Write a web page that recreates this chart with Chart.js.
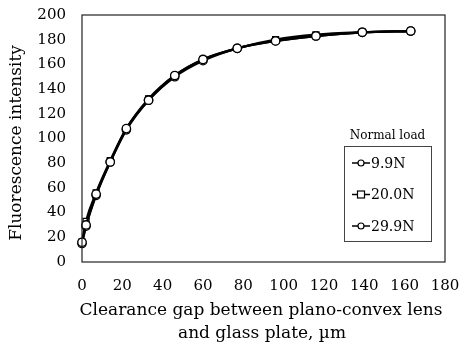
<!DOCTYPE html>
<html>
<head>
<meta charset="utf-8">
<script src="https://cdn.jsdelivr.net/npm/chart.js@4/dist/chart.umd.min.js"></script>
<style>
  html, body { margin: 0; padding: 0; background: #fff; }
</style>
</head>
<body>
<canvas id="c" width="461" height="347"></canvas>
<script>
"use strict";

// clearance gap (um) and fluorescence intensity
const gaps = [0, 2, 7, 14, 22, 33, 46, 60, 77, 96, 116, 139, 163];
const load99 = [16, 30, 55, 81, 108, 131, 151, 164, 173, 179, 183, 186, 187];
const load200 = [16, 33, 56, 82, 108, 132, 151, 164, 173, 180, 184, 186, 187];
const load299 = [15, 29, 54, 81, 107, 131, 150, 163, 173, 179, 183, 186, 187];
const seriesNames = ["9.9N", "20.0N", "29.9N"];
const seriesMarks = ["circle", "rect", "circle"];
const xTicks = [0, 20, 40, 60, 80, 100, 120, 140, 160, 180];
const yTicks = [0, 20, 40, 60, 80, 100, 120, 140, 160, 180, 200];

const SERIF = "'DejaVu Serif', 'Liberation Serif', serif";

const toPts = (ys) => ys.map((y, i) => ({ x: gaps[i], y }));

function ds(label, ys, mark) {
  return {
    label, data: toPts(ys),
    borderColor: "#000", borderWidth: 2.3,
    pointStyle: mark, pointRadius: 4.2,
    pointBackgroundColor: "#fff", pointBorderColor: "#000", pointBorderWidth: 1.3,
    tension: 0.35, cubicInterpolationMode: "monotone", clip: false,
  };
}

// fixed axis box, and no extra room for the edge tick labels
function fixBox(size, key) {
  return (s) => {
    s[key] = size;
    s.paddingTop = s.paddingBottom = s.paddingLeft = s.paddingRight = 0;
  };
}

/* frame, axis titles and the boxed legend */
const decor = {
  id: "decor",
  afterDraw(chart) {
    const { ctx, chartArea: a } = chart;
    ctx.save();
    ctx.strokeStyle = "#222";
    ctx.lineWidth = 1.2;
    ctx.strokeRect(a.left, a.top, a.right - a.left, a.bottom - a.top);

    ctx.fillStyle = "#000";
    ctx.font = "17px " + SERIF;
    ctx.textAlign = "center";
    ctx.textBaseline = "middle";
    ctx.fillText("Clearance gap between plano-convex lens", 261, 311);
    ctx.fillText("and glass plate, \u00b5m", 262, 334);

    ctx.save();
    ctx.translate(17, 143);
    ctx.rotate(-Math.PI / 2);
    ctx.fillText("Fluorescence intensity", 0, 0);
    ctx.restore();

    // legend
    const bx = 344, by = 146, bw = 87, bh = 95;
    ctx.font = "12px " + SERIF;
    ctx.fillText("Normal load", bx + bw / 2, by - 10);
    ctx.fillStyle = "#fff";
    ctx.fillRect(bx, by, bw, bh);
    ctx.strokeStyle = "#444";
    ctx.lineWidth = 1;
    ctx.strokeRect(bx + 0.5, by + 0.5, bw, bh);
    ctx.font = "14px " + SERIF;
    ctx.textAlign = "left";
    seriesNames.forEach((name, i) => {
      const y = by + 17 + i * 31.5;
      ctx.strokeStyle = "#000";
      ctx.lineWidth = 1.5;
      ctx.beginPath(); ctx.moveTo(bx + 8, y); ctx.lineTo(bx + 26, y); ctx.stroke();
      ctx.fillStyle = "#fff";
      ctx.lineWidth = 1.2;
      if (seriesMarks[i] === "rect") {
        ctx.fillRect(bx + 13.5, y - 3.5, 7, 7);
        ctx.strokeRect(bx + 13.5, y - 3.5, 7, 7);
      } else {
        ctx.beginPath(); ctx.arc(bx + 17, y, 3, 0, Math.PI * 2); ctx.fill(); ctx.stroke();
      }
      ctx.fillStyle = "#000";
      ctx.fillText(name, bx + 27, y + 1);
    });
    ctx.restore();
  },
};

new Chart(document.getElementById("c"), {
  type: "line",
  data: {
    datasets: [
      ds(seriesNames[0], load99, seriesMarks[0]),
      ds(seriesNames[1], load200, seriesMarks[1]),
      ds(seriesNames[2], load299, seriesMarks[2]),
    ],
  },
  options: {
    responsive: false, animation: false,
    layout: { autoPadding: false, padding: { left: 0, right: 16, top: 15, bottom: 0 } },
    plugins: { legend: { display: false }, tooltip: { enabled: false } },
    scales: {
      x: {
        type: "linear", min: 0, max: 180,
        afterBuildTicks: (s) => { s.ticks = xTicks.map((v) => ({ value: v })); },
        afterFit: fixBox(85, "height"),
        grid: { display: false, drawTicks: false },
        border: { display: false },
        ticks: { color: "#000", padding: 15, maxRotation: 0, font: { family: SERIF, size: 15 } },
      },
      y: {
        type: "linear", min: 0, max: 200,
        afterBuildTicks: (s) => { s.ticks = yTicks.map((v) => ({ value: v })); },
        afterFit: fixBox(82, "width"),
        grid: { display: false, drawTicks: false },
        border: { display: false },
        ticks: { color: "#000", padding: 16, font: { family: SERIF, size: 15 } },
      },
    },
  },
  plugins: [decor],
});
</script>
</body>
</html>
